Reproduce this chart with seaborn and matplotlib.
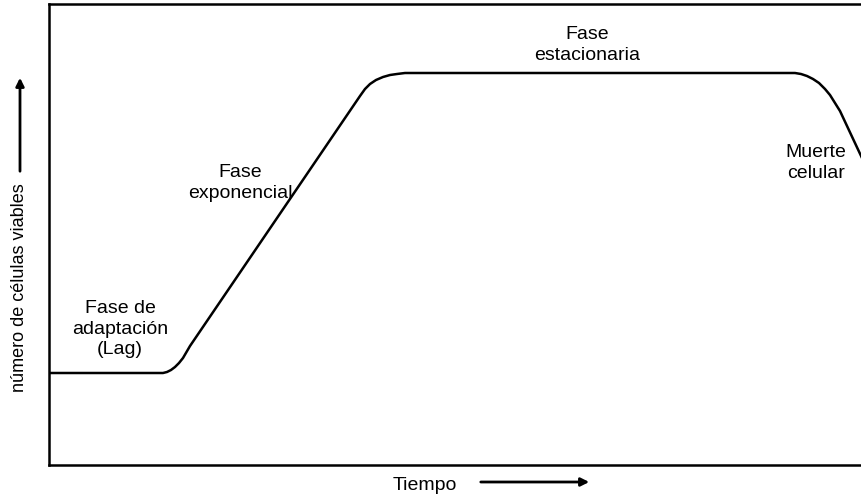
import matplotlib
matplotlib.use('Agg')
import matplotlib.pyplot as plt
import seaborn as sns
import pandas as pd

# Curve (time units, viable-cell units)
tiempo = [0, 114, 118, 122, 126, 130, 134, 141, 311, 316, 321, 327, 334, 341, 348, 356,
          746, 752, 758, 764, 770, 776, 781, 786, 791, 813]
celulas = [92, 92, 93, 95, 98, 102, 107, 119, 369, 376, 381, 385, 388, 390, 391, 392,
           392, 391, 389, 386, 382, 376, 370, 362, 354, 307]

fases = ['Fase de\nadaptación\n(Lag)', 'Fase\nexponencial', 'Fase\nestacionaria', 'Muerte\ncelular']
fase_x = [71, 191, 538, 767]
fase_y = [136, 282, 420, 302]

df = pd.DataFrame({'Tiempo': tiempo, 'celulas': celulas})

sns.set_theme(style='white')
plt.rcParams['font.family'] = ['Liberation Sans', 'DejaVu Sans']
plt.rcParams['text.color'] = 'black'

fig = plt.figure(figsize=(8.62, 5), dpi=100)
ax = fig.add_axes([49 / 862, 35 / 500, 813 / 862, 461 / 500])

sns.lineplot(data=df, x='Tiempo', y='celulas', sort=False, color='black', linewidth=1.8, ax=ax)

ax.set_xlim(0, 813)
ax.set_ylim(0, 461)
ax.set_xticks([])
ax.set_yticks([])
ax.set_xlabel('')
ax.set_ylabel('')
for side, sp in ax.spines.items():
    sp.set_color('black')
    sp.set_linewidth(1.8)
ax.spines['right'].set_visible(False)

for txt, x, y in zip(fases, fase_x, fase_y):
    ax.text(x, y, txt, ha='center', va='center', fontsize=14, linespacing=1.3, color='black')

# axis labels with arrows
fig.text(425 / 862, 1 - 485 / 500, 'Tiempo', ha='center', va='center', fontsize=14, color='black')
fig.text(20 / 862, 1 - 288 / 500, 'número de células viables', ha='center', va='center',
         rotation=90, fontsize=13, color='black')
ax.annotate('', xy=(592 / 862, 1 - 482 / 500), xytext=(478 / 862, 1 - 482 / 500),
            xycoords='figure fraction', textcoords='figure fraction',
            arrowprops=dict(arrowstyle='-|>', color='black', lw=2, mutation_scale=12),
            annotation_clip=False)
ax.annotate('', xy=(20 / 862, 1 - 75 / 500), xytext=(20 / 862, 1 - 174 / 500),
            xycoords='figure fraction', textcoords='figure fraction',
            arrowprops=dict(arrowstyle='-|>', color='black', lw=2, mutation_scale=12),
            annotation_clip=False)

fig.savefig('out.png', dpi=100, facecolor='white')
